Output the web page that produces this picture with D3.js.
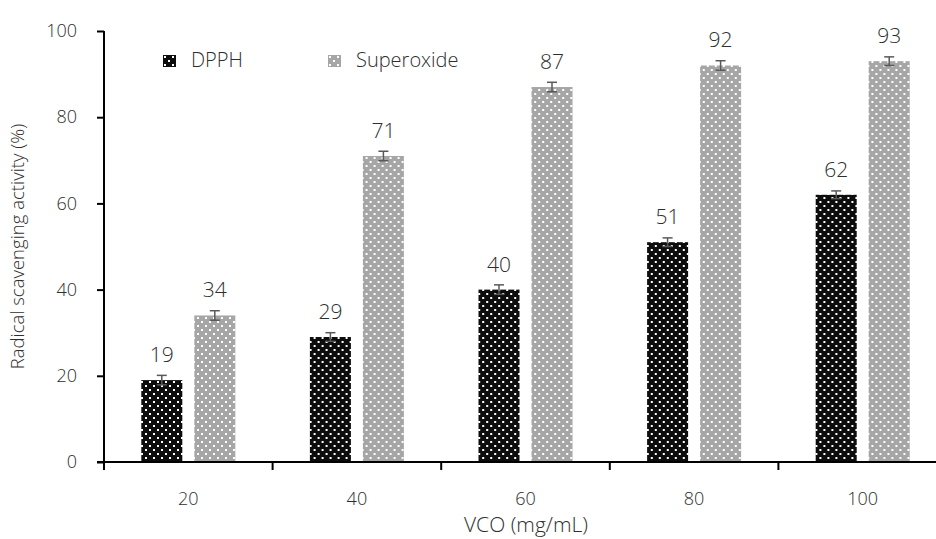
<!DOCTYPE html>
<html>
<head>
<meta charset="utf-8">
<script src="https://cdn.jsdelivr.net/npm/d3@7"></script>
<style>
  html, body { margin: 0; padding: 0; background: #fff; }
  svg { display: block; font-family: "Open Sans", "Noto Sans", sans-serif; }
  svg text { font-weight: 300; }
</style>
</head>
<body>
<svg id="chart" width="936" height="539"></svg>
<script>
// VCO concentrations (mg/mL)
const categories = ["20", "40", "60", "80", "100"];
const seriesNames = ["DPPH", "Superoxide"];
// Radical scavenging activity (%)
const dpph = [19, 29, 40, 51, 62];
const superoxide = [34, 71, 87, 92, 93];
// standard deviations
const dpphErr = [1.1, 1.0, 1.1, 1.0, 0.9];
const superoxideErr = [1.1, 1.1, 1.1, 1.1, 1.0];
const yTicks = [0, 20, 40, 60, 80, 100];

const values = [dpph, superoxide];
const errors = [dpphErr, superoxideErr];
const colors = ["#0d0d0d", "#a6a6a6"];

const svg = d3.select("#chart");
const textColor = "#2e2e2e";

const margin = { left: 104, right: -11, top: 31, bottom: 77 };
const W = 936, H = 539;

const x0 = d3.scaleBand().domain(categories)
  .range([margin.left, W - margin.right]).paddingInner(0).paddingOuter(0);
const groupW = 94;
const x1 = d3.scaleBand().domain(seriesNames)
  .range([(x0.bandwidth() - groupW) / 2, (x0.bandwidth() + groupW) / 2])
  .paddingInner(12 / 53).paddingOuter(0);
const y = d3.scaleLinear().domain([0, 100]).range([H - margin.bottom, margin.top]);

// dotted fill patterns
const defs = svg.append("defs");
colors.forEach((c, i) => {
  const p = defs.append("pattern").attr("id", "pat" + i)
    .attr("patternUnits", "userSpaceOnUse").attr("width", 8).attr("height", 8)
    .attr("x", 0).attr("y", 0);
  p.append("rect").attr("width", 8).attr("height", 8).attr("fill", c);
  p.append("rect").attr("x", 1).attr("y", 1).attr("width", 2).attr("height", 2).attr("fill", "#fff");
  p.append("rect").attr("x", 5).attr("y", 5).attr("width", 2).attr("height", 2).attr("fill", "#fff");
});

// bars
const groups = svg.append("g").selectAll("g").data(categories).join("g")
  .attr("transform", d => `translate(${x0(d)},0)`);

seriesNames.forEach((s, si) => {
  groups.append("rect")
    .attr("x", x1(s))
    .attr("width", x1.bandwidth())
    .attr("y", (d, i) => y(values[si][i]))
    .attr("height", (d, i) => y(0) - y(values[si][i]))
    .attr("fill", `url(#pat${si})`);

  // error bars
  const eb = groups.append("g").attr("stroke", "#595959").attr("stroke-width", 1.5);
  const cx = x1(s) + x1.bandwidth() / 2;
  eb.append("line").attr("x1", cx).attr("x2", cx)
    .attr("y1", (d, i) => y(values[si][i] + errors[si][i]))
    .attr("y2", (d, i) => y(values[si][i] - errors[si][i]));
  [1, -1].forEach(sign => {
    eb.append("line").attr("x1", cx - 5).attr("x2", cx + 5)
      .attr("y1", (d, i) => y(values[si][i] + sign * errors[si][i]))
      .attr("y2", (d, i) => y(values[si][i] + sign * errors[si][i]));
  });

  // value labels
  groups.append("text")
    .attr("x", cx)
    .attr("y", (d, i) => y(values[si][i]) - 18)
    .attr("text-anchor", "middle")
    .attr("fill", textColor)
    .attr("font-size", 21)
    .text((d, i) => d3.format("d")(values[si][i]));
});

// y axis
const yAxis = svg.append("g").attr("transform", `translate(${margin.left},0)`)
  .call(d3.axisLeft(y).tickValues(yTicks).tickSize(7).tickPadding(20));
yAxis.select(".domain").attr("d", `M0,${y(100)}V${y(0) + 8}`).attr("stroke", "#000").attr("stroke-width", 2);
yAxis.selectAll(".tick line").attr("stroke", "#000").attr("stroke-width", 2);
yAxis.selectAll(".tick text").attr("fill", textColor).attr("font-size", 18)
  .attr("font-family", "'Open Sans', sans-serif");

// x axis: ticks at category boundaries
const xAxisG = svg.append("g").attr("transform", `translate(0,${y(0)})`);
xAxisG.append("line").attr("x1", margin.left - 7).attr("x2", W)
  .attr("stroke", "#000").attr("stroke-width", 2);
xAxisG.selectAll("line.tk").data(categories.slice(1)).join("line").attr("class", "tk")
  .attr("x1", d => x0(d)).attr("x2", d => x0(d)).attr("y1", 0).attr("y2", 8)
  .attr("stroke", "#000").attr("stroke-width", 2);
xAxisG.selectAll("text").data(categories).join("text")
  .attr("x", d => x0(d) + x0.bandwidth() / 2)
  .attr("y", 43)
  .attr("text-anchor", "middle")
  .attr("fill", textColor).attr("font-size", 18)
  .text(d => d);

// axis titles
svg.append("text").attr("x", 526).attr("y", 532).attr("text-anchor", "middle")
  .attr("fill", textColor).attr("font-size", 21).text("VCO (mg/mL)");
svg.append("text").attr("transform", `translate(24,${(y(0) + y(100)) / 2}) rotate(-90)`)
  .attr("text-anchor", "middle").attr("fill", textColor).attr("font-size", 18.5)
  .text("Radical scavenging activity (%)");

// legend
const legendX = [163, 328];
const legend = svg.append("g").selectAll("g").data(seriesNames).join("g")
  .attr("transform", (d, i) => `translate(${legendX[i]},55)`);
legend.append("rect").attr("width", 13).attr("height", 12)
  .attr("fill", (d, i) => `url(#pat${i})`);
legend.append("text").attr("x", 28).attr("y", 12).attr("fill", textColor)
  .attr("font-size", 20).text(d => d);
</script>
</body>
</html>
